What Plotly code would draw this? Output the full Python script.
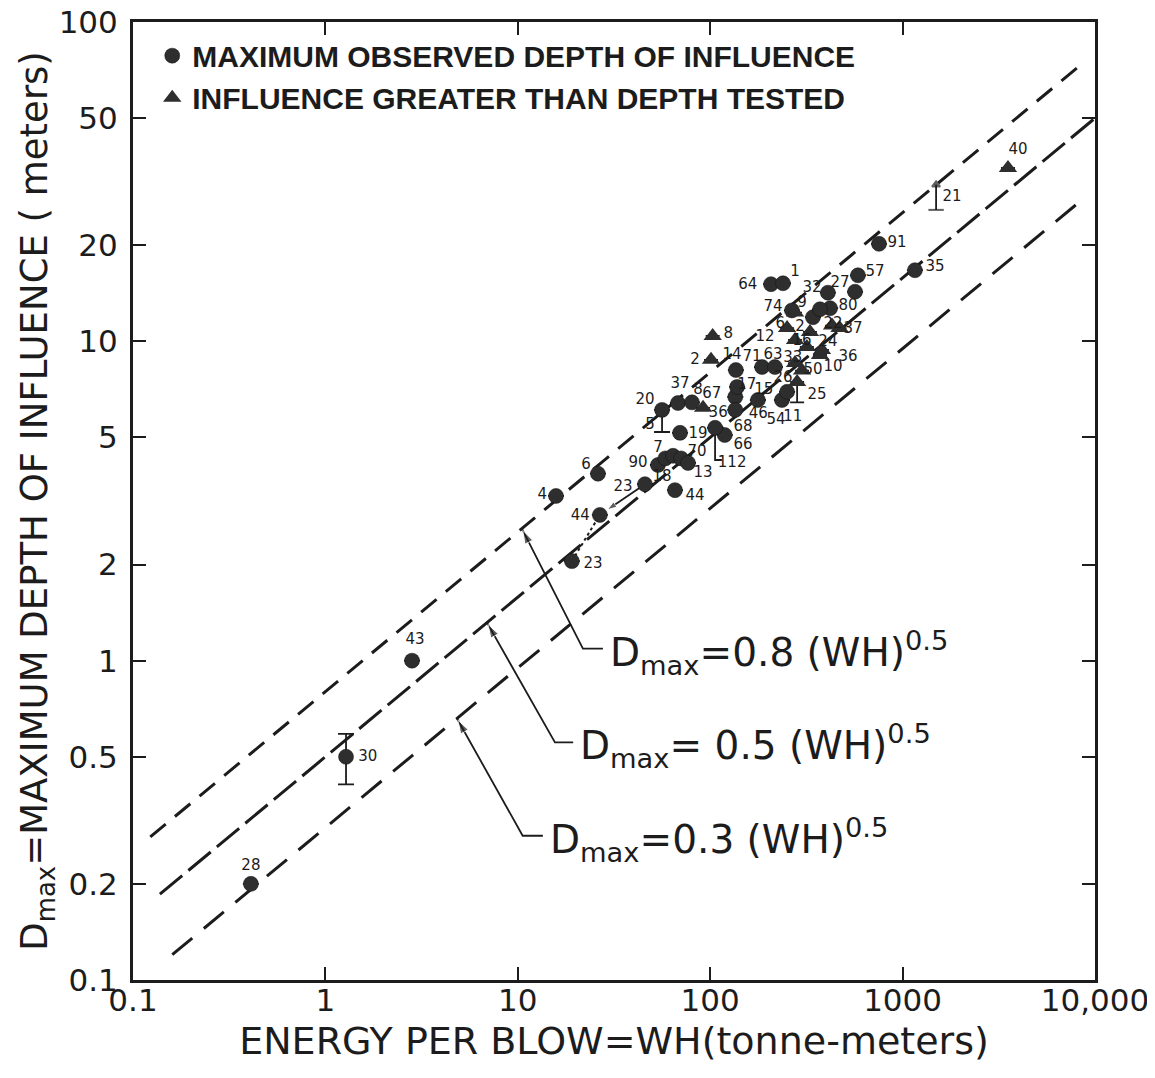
import math
import plotly.graph_objects as go

# ---------------- data ----------------
# circles: maximum observed depth of influence (WH in tonne-m, D in m)
circ_wh = [0.41, 1.28, 2.82, 15.8, 26.1, 26.7, 19.1, 45.8, 65.6, 69.7,
           56.2, 136, 207, 239, 754, 1159, 586, 566, 409, 266,
           420, 342, 372, 186, 217, 68.0, 80.4, 135, 138, 177,
           236, 251, 135, 119, 106, 53.5, 58.5, 64.1, 70.5, 76.7]
circ_d = [0.20, 0.50, 1.0, 3.28, 3.85, 2.86, 2.05, 3.57, 3.42, 5.17,
          6.10, 8.13, 15.1, 15.2, 20.2, 16.7, 16.1, 14.3, 14.2, 12.5,
          12.7, 11.9, 12.6, 8.31, 8.31, 6.41, 6.44, 6.70, 7.20, 6.55,
          6.55, 6.95, 6.10, 5.09, 5.36, 4.10, 4.30, 4.38, 4.30, 4.16]
circ_err_up = [0, 0.09] + [0] * 38
circ_err_dn = [0, 0.09] + [0] * 8 + [0.90] + [0] * 29

# triangles: influence greater than depth tested
tri_wh = [103, 101, 3530, 276, 251, 330, 430, 470, 276, 318,
          381, 372, 276, 300, 283, 91.8]
tri_d = [10.4, 8.75, 34.9, 12.3, 11.0, 10.7, 11.2, 11.0, 10.1, 9.60,
         9.40, 9.06, 8.55, 8.10, 7.46, 6.19]
tri_err_dn = [0] * 14 + [1.02, 0]

# stand-alone range bar (test 21)
bar21_wh = [1493, 1493]
bar21_d = [25.8, 30.9]

# test-number labels (placed beside their points)
lbl_text = ["28", "30", "43", "4", "6", "44", "23", "23", "44", "19",
            "20", "5", "14", "8", "2", "64", "1", "32", "27", "57",
            "91", "35", "40", "21", "74", "9", "80", "6", "2", "22",
            "37", "12", "16", "24", "36", "33", "50", "10", "71", "63",
            "37", "8", "67", "17", "15", "26", "25", "11", "46", "54",
            "68", "66", "36", "112", "7", "90", "70", "18", "13"]
lbl_wh = [0.41, 1.66, 2.92, 13.4, 22.6, 21.1, 24.6, 35.2, 83.4, 86.4,
          45.8, 48.7, 130, 124, 83.4, 157, 276, 338, 473, 719,
          935, 1473, 3981, 1806, 212, 300, 520, 231, 293, 435,
          552, 193, 300, 409, 520, 269, 342, 435, 165, 212,
          69.7, 86.4, 102, 155, 190, 239, 359, 269, 178, 220,
          148, 148, 110, 130, 53.5, 42.2, 85.4, 56.2, 91.8]
lbl_d = [0.227, 0.50, 1.16, 3.30, 4.10, 2.84, 2.01, 3.50, 3.28, 5.13,
         6.55, 5.47, 9.06, 10.5, 8.75, 15.0, 16.5, 14.7, 15.2, 16.5,
         20.3, 17.0, 39.7, 28.3, 12.8, 13.2, 12.9, 11.3, 11.1, 11.3,
         10.9, 10.3, 10.0, 9.95, 8.93, 8.85, 8.13, 8.31, 8.93, 9.06,
         7.36, 7.04, 6.84, 7.30, 7.04, 7.68, 6.79, 5.80, 5.92, 5.67,
         5.40, 4.74, 5.97, 4.16, 4.64, 4.16, 4.50, 3.76, 3.87]

# bracket for 112
bracket_wh = [106, 106, 115]
bracket_d = [5.36, 4.25, 4.25]

# design lines D = c * (WH)^0.5
line_c = [0.8, 0.5, 0.3]
line_wh_start = [0.123, 0.138, 0.16]
line_wh_end = [8500, 10000, 9100]
line_text = ["D<sub>max</sub>=0.8 (WH)<sup>0.5</sup>",
             "D<sub>max</sub>= 0.5 (WH)<sup>0.5</sup>",
             "D<sub>max</sub>=0.3 (WH)<sup>0.5</sup>"]
# leader geometry: arrow tip on the line, bend, end of the short horizontal
lead_tip_wh = [10.5, 6.92, 4.83]
lead_bend_wh = [21.8, 15.6, 10.6]
lead_bend_d = [1.09, 0.555, 0.283]
lead_end_wh = [27.7, 19.4, 13.5]

x_ticks = [0.1, 1, 10, 100, 1000, 10000]
x_ticktext = ["0.1", "1", "10", "100", "1000", "10,000"]
y_ticks = [0.1, 0.2, 0.5, 1, 2, 5, 10, 20, 50, 100]
y_ticktext = ["0.1", "0.2", "0.5", "1", "2", "5", "10", "20", "50", "100"]

# ---------------- styles ----------------
dashes = ["20px,12px", "29px,8px", "26px,15px"]
INK = "#1c1c1c"
FONT = "DejaVu Sans, Arial, sans-serif"
LEGFONT = "Liberation Sans, Arial, sans-serif"

fig = go.Figure()

# design lines
for c, ws, we, dsh in zip(line_c, line_wh_start, line_wh_end, dashes):
    fig.add_trace(go.Scatter(
        x=[ws, we], y=[c * ws ** 0.5, c * we ** 0.5], mode="lines",
        line=dict(color=INK, width=3, dash=dsh),
        showlegend=False, hoverinfo="skip"))

# leader lines with arrowheads, and short horizontals
for c, tw, bw, bd, ew in zip(line_c, lead_tip_wh, lead_bend_wh, lead_bend_d, lead_end_wh):
    fig.add_trace(go.Scatter(
        x=[ew, bw, tw], y=[bd, bd, c * tw ** 0.5], mode="lines+markers",
        line=dict(color=INK, width=1.8),
        marker=dict(symbol=["circle", "circle", "arrow"], size=[0, 0, 14],
                    angleref="previous", color=INK, standoff=[0, 0, 2]),
        showlegend=False, hoverinfo="skip"))

# dotted connector between 23 (lower) and 44 (upper)
fig.add_trace(go.Scatter(
    x=[circ_wh[6], circ_wh[5]], y=[circ_d[6], circ_d[5]], mode="lines",
    line=dict(color=INK, width=2, dash="dot"), showlegend=False, hoverinfo="skip"))

# arrow from 23 (upper) toward 44 (upper)
fig.add_trace(go.Scatter(
    x=[circ_wh[7], circ_wh[5]], y=[circ_d[7], circ_d[5]], mode="lines+markers",
    line=dict(color=INK, width=1.8),
    marker=dict(symbol=["circle", "arrow"], size=[0, 10], angleref="previous",
                color=INK, standoff=[0, 9]),
    showlegend=False, hoverinfo="skip"))

# bracket 112
fig.add_trace(go.Scatter(
    x=bracket_wh, y=bracket_d, mode="lines",
    line=dict(color=INK, width=1.8), showlegend=False, hoverinfo="skip"))

# range bar 21
fig.add_trace(go.Scatter(
    x=bar21_wh, y=bar21_d, mode="lines+markers",
    line=dict(color=INK, width=1.8),
    marker=dict(symbol=["line-ew", "triangle-up"], size=[11, 7], color=INK,
                line=dict(color=INK, width=2)),
    showlegend=False, hoverinfo="skip"))

# circles
fig.add_trace(go.Scatter(
    x=circ_wh, y=circ_d, mode="markers",
    marker=dict(symbol="circle", size=15, color="#2e2e2e",
                line=dict(color="#111", width=0.5)),
    error_y=dict(type="data", symmetric=False, array=circ_err_up,
                 arrayminus=circ_err_dn, color=INK, thickness=1.8, width=8),
    name="MAXIMUM OBSERVED DEPTH OF INFLUENCE", cliponaxis=False))

# triangles
fig.add_trace(go.Scatter(
    x=tri_wh, y=tri_d, mode="markers",
    marker=dict(symbol="triangle-up", size=16, color="#2e2e2e"),
    error_y=dict(type="data", symmetric=False, array=[0] * len(tri_d),
                 arrayminus=tri_err_dn, color=INK, thickness=1.8, width=7),
    name="INFLUENCE GREATER THAN DEPTH TESTED", cliponaxis=False))

# test-number labels
fig.add_trace(go.Scatter(
    x=lbl_wh, y=lbl_d, mode="text", text=lbl_text, textposition="middle center",
    textfont=dict(size=15, color=INK, family=FONT), showlegend=False,
    hoverinfo="skip", cliponaxis=False))

annotations = []
for t, ew, bd in zip(line_text, lead_end_wh, lead_bend_d):
    annotations.append(dict(
        x=math.log10(ew), y=math.log10(bd), xref="x", yref="y",
        text=t, showarrow=False, xanchor="left", yanchor="middle", xshift=5, yshift=-4,
        font=dict(size=39, color=INK, family=FONT)))

axis_common = dict(
    type="log", showline=True, linewidth=3, linecolor=INK, mirror="ticks",
    ticks="inside", ticklen=13, tickwidth=2, tickcolor=INK,
    showgrid=False, zeroline=False, ticklabeloverflow="allow",
    tickfont=dict(size=31, color=INK, family=FONT), automargin=False)

fig.update_layout(
    width=1145, height=1062,
    margin=dict(l=125, r=58, t=14, b=90),
    paper_bgcolor="white", plot_bgcolor="white",
    xaxis=dict(range=[-1, 4], tickvals=x_ticks, ticktext=x_ticktext,
               ticklabelstandoff=-9,
               title=dict(text="ENERGY PER BLOW=WH(tonne-meters)",
                          font=dict(size=38, color=INK, family=FONT), standoff=11),
               **axis_common),
    yaxis=dict(range=[-1, 2], tickvals=y_ticks, ticktext=y_ticktext,
               ticklabelstandoff=6,
               title=dict(text="D<sub>max</sub>=MAXIMUM DEPTH OF INFLUENCE ( meters)",
                          font=dict(size=37, color=INK, family=FONT), standoff=0),
               **axis_common),
    legend=dict(x=0.02, y=0.992, xanchor="left", yanchor="top",
                bgcolor="rgba(0,0,0,0)", borderwidth=0,
                font=dict(size=30, color=INK, family=LEGFONT, weight="bold"),
                itemsizing="trace", tracegroupgap=0),
    annotations=annotations,
    showlegend=True,
)

fig.write_html("out.html")
